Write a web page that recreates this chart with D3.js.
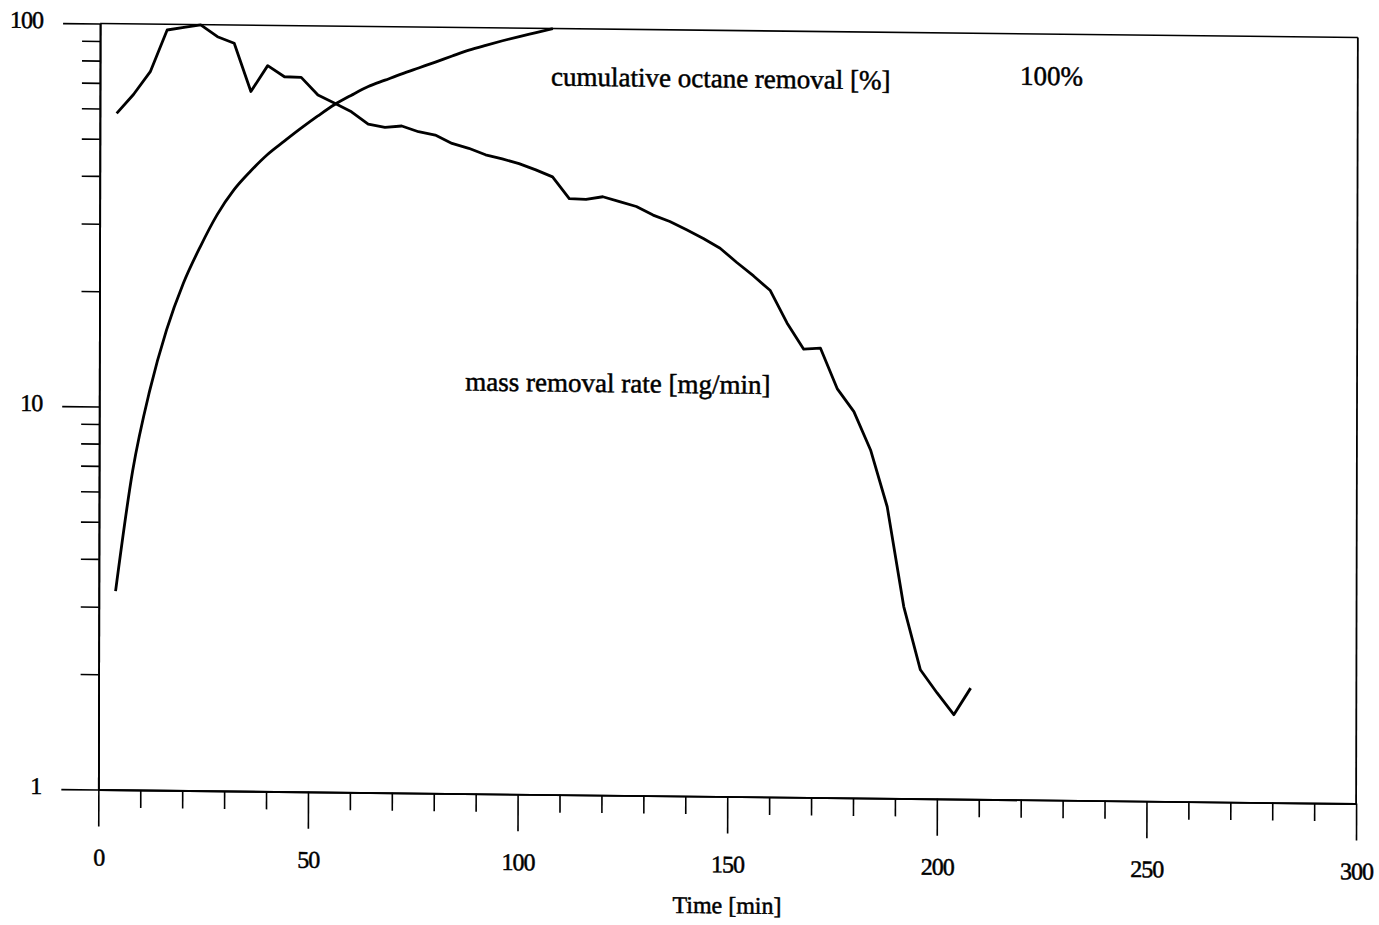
<!DOCTYPE html>
<html><head><meta charset="utf-8">
<script src="https://cdn.jsdelivr.net/npm/d3@7"></script>
<style>
body{margin:0;background:#fff}
svg{display:block;background:#fff}
text{font-family:"Liberation Serif","Times New Roman",serif;fill:#000}
</style>
</head><body>
<svg id="c" width="1379" height="925"></svg>
<script>
// ---- data ----
const timeMass = [4,8,12,16,20,24,28,32,36,40,44,48,52,56,60,64,68,72,76,80,84,88,92,96,100,104,108,112,116,120,124,128,132,136,140,144,148,152,156,160,164,168,172,176,180,184,188,192,196,200,204,208];
const massRate = [58.3,65.4,75.1,96.6,98.3,99.8,93.1,89.6,67.1,78.5,73.5,73.3,66.0,62.9,59.8,55.6,54.6,55.1,53.3,52.3,49.8,48.4,46.6,45.5,44.3,42.7,41.0,36.0,35.9,36.5,35.5,34.5,32.8,31.6,30.1,28.6,27.0,24.8,22.9,21.0,17.3,14.8,14.9,11.7,10.2,8.11,5.77,3.17,2.17,1.89,1.66,1.95];
const timeCum = [4,8,12,16,20,24,28,32,36,40,44,48,52,56,60,64,68,72,76,80,84,88,92,96,100,104,108];
const cumRemoval = [3.3,6.8,11.0,15.9,21.1,26.3,31.9,37.1,41.6,46.0,49.9,54.0,58.2,62.4,66.1,69.7,72.5,75.4,78.2,81.1,84.2,87.3,90.0,92.6,95.1,97.5,100];
const xMajorTicks = [0,50,100,150,200,250,300];
const xMinorTicks = [10,20,30,40,60,70,80,90,110,120,130,140,160,170,180,190,210,220,230,240,260,270,280,290];
const xTickLabels = ["0","50","100","150","200","250","300"];
const yMajorTicks = [1,10,100];
const yMinorTicks = [2,3,4,5,6,7,8,9,20,30,40,50,60,70,80,90];
const yTickLabels = ["1","10","100"];
const xTitle = "Time [min]";
const labelCum = "cumulative octane removal [%]";
const labelCumEnd = "100%";
const labelMass = "mass removal rate [mg/min]";

// ---- layout ----
const W = 1257.75, H = 766;
const svg = d3.select('#c');
svg.append('rect').attr('width',1379).attr('height',925).attr('fill','#fff');
const g = svg.append('g').attr('transform','matrix(1,0.01113,-0.002285,1,100.1,23.5)');

const x = d3.scaleLinear().domain([0,300]).range([0,W]);
const y = d3.scaleLog().domain([1,100]).range([H,0]);

function styleAxis(sel, fs){
  sel.attr('font-family',null).attr('font-size',null);
  sel.select('.domain').attr('stroke','#000').attr('stroke-width',1.8);
  sel.selectAll('.tick line').attr('stroke','#000').attr('stroke-width',1.6);
  sel.selectAll('.tick text').attr('font-size',fs).attr('fill','#000')
     .attr('stroke','#000').attr('stroke-width',0.5).attr('letter-spacing','-1px');
}

// x axis
g.append('g').attr('transform',`translate(0,${H})`)
  .call(d3.axisBottom(x).tickValues(xMinorTicks).tickSize(18).tickSizeOuter(0).tickFormat(''))
  .call(s=>styleAxis(s,24));
g.append('g').attr('transform',`translate(0,${H})`)
  .call(d3.axisBottom(x).tickValues(xMajorTicks).tickSize(37).tickSizeOuter(0).tickPadding(22)
        .tickFormat((d,i)=>xTickLabels[i]))
  .call(s=>styleAxis(s,24));

// y axis
g.append('g')
  .call(d3.axisLeft(y).tickValues(yMinorTicks).tickSize(18).tickSizeOuter(0).tickFormat(''))
  .call(s=>styleAxis(s,24));
g.append('g')
  .call(d3.axisLeft(y).tickValues(yMajorTicks).tickSize(37).tickSizeOuter(0).tickPadding(20)
        .tickFormat((d,i)=>yTickLabels[i]))
  .call(s=>{styleAxis(s,24); s.selectAll('.tick text').attr('dy','0.2em');});

// top and right frame lines
g.append('line').attr('x1',x(0)).attr('x2',x(300)).attr('y1',y(100)).attr('y2',y(100))
  .attr('stroke','#000').attr('stroke-width',1.6);
g.append('line').attr('x1',x(300)).attr('x2',x(300)).attr('y1',y(100)).attr('y2',y(1))
  .attr('stroke','#000').attr('stroke-width',1.8);

// curves
const massData = timeMass.map((t,i)=>[t,massRate[i]]);
const cumData = timeCum.map((t,i)=>[t,cumRemoval[i]]);
g.append('path').datum(massData)
  .attr('d', d3.line().x(d=>x(d[0])).y(d=>y(d[1])))
  .attr('fill','none').attr('stroke','#000').attr('stroke-width',2.8).attr('stroke-linejoin','round');
g.append('path').datum(cumData)
  .attr('d', d3.line().curve(d3.curveMonotoneX).x(d=>x(d[0])).y(d=>y(d[1])))
  .attr('fill','none').attr('stroke','#000').attr('stroke-width',2.8);

// labels
const lab = (xx,yy,txt,fs,anchor)=>g.append('text').attr('x',xx).attr('y',yy)
  .attr('text-anchor',anchor||'start').attr('font-size',fs)
  .attr('stroke','#000').attr('stroke-width',0.5).text(txt);
lab(x(150),H+117,xTitle,24,'middle');
lab(451,57,labelCum,27);
lab(920,51,labelCumEnd,27);
lab(366,363,labelMass,27);
</script>
</body></html>
